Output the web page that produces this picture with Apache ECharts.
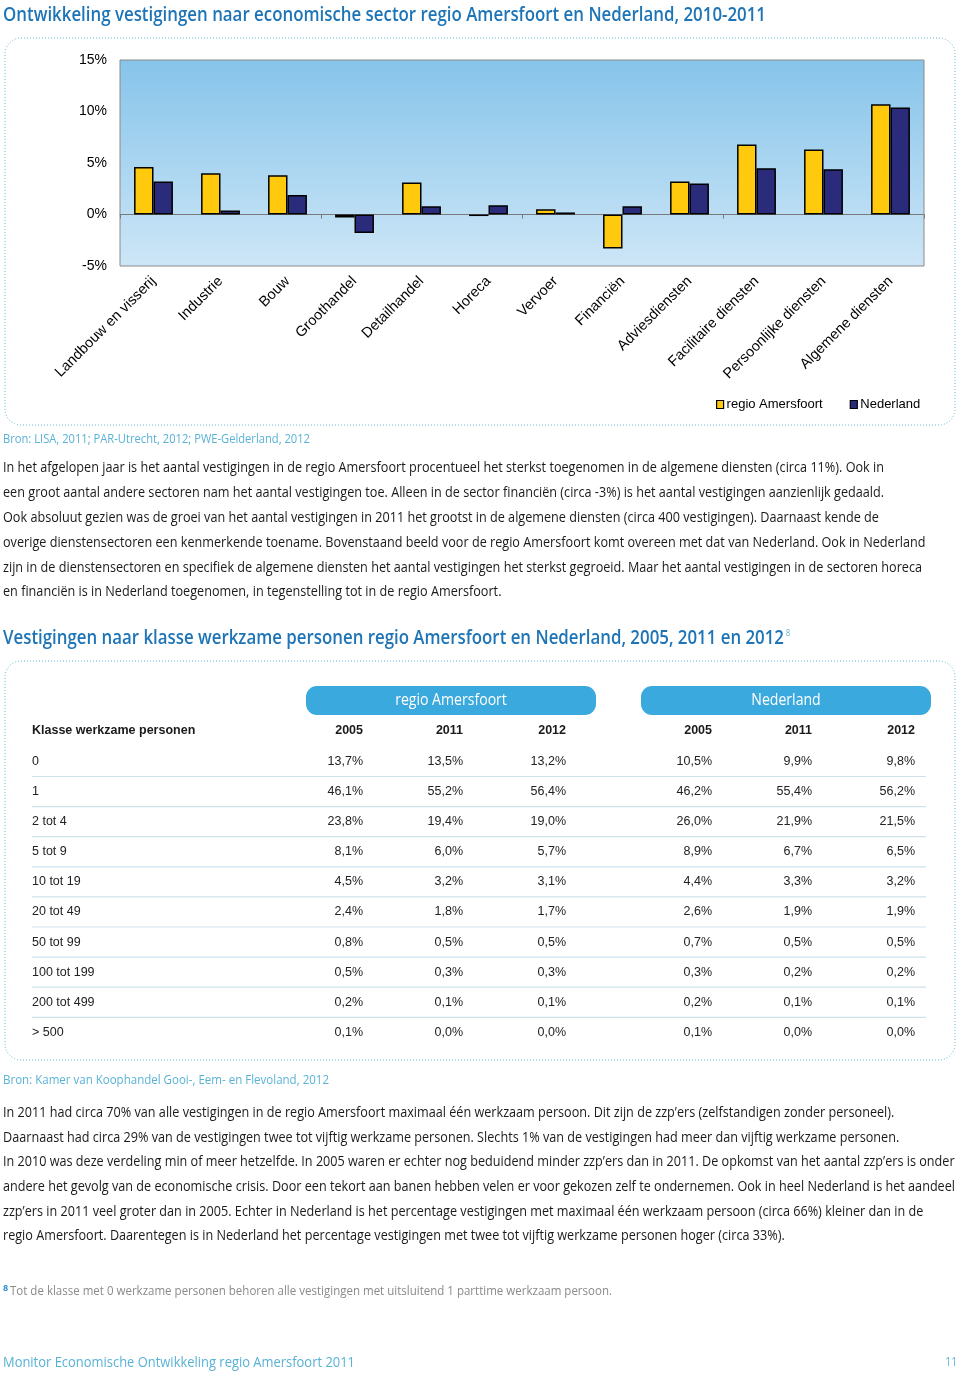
<!DOCTYPE html>
<html><head><meta charset="utf-8">
<script src="https://cdn.jsdelivr.net/npm/echarts@6/dist/echarts.min.js"></script>
<style>html,body{margin:0;padding:0;background:#fff}#c{width:960px;height:1375px}</style>
</head><body><div id="c"></div>
<script>
// ---------- DATA ----------
const sectors = ['Landbouw en visserij','Industrie','Bouw','Groothandel','Detailhandel','Horeca','Vervoer','Financiën','Adviesdiensten','Facilitaire diensten','Persoonlijke diensten','Algemene diensten'];
const regioAmersfoort = [4.6, 4.0, 3.8, -0.3, 3.1, -0.15, 0.5, -3.3, 3.2, 6.8, 6.3, 10.7];
const nederland = [3.2, 0.4, 1.9, -1.8, 0.8, 0.9, 0.2, 0.8, 3.0, 4.5, 4.4, 10.4];
const yTickValues = [-5, 0, 5, 10, 15];
const seriesNames = ['regio Amersfoort', 'Nederland'];

const tableGroups = ['regio Amersfoort', 'Nederland'];
const tableYears = ['2005', '2011', '2012', '2005', '2011', '2012'];
const tableFirstHeader = 'Klasse werkzame personen';
const klassen = ['0','1','2 tot 4','5 tot 9','10 tot 19','20 tot 49','50 tot 99','100 tot 199','200 tot 499','> 500'];
const ra2005 = [13.7, 46.1, 23.8, 8.1, 4.5, 2.4, 0.8, 0.5, 0.2, 0.1];
const ra2011 = [13.5, 55.2, 19.4, 6.0, 3.2, 1.8, 0.5, 0.3, 0.1, 0.0];
const ra2012 = [13.2, 56.4, 19.0, 5.7, 3.1, 1.7, 0.5, 0.3, 0.1, 0.0];
const nl2005 = [10.5, 46.2, 26.0, 8.9, 4.4, 2.6, 0.7, 0.3, 0.2, 0.1];
const nl2011 = [9.9, 55.4, 21.9, 6.7, 3.3, 1.9, 0.5, 0.2, 0.1, 0.0];
const nl2012 = [9.8, 56.2, 21.5, 6.5, 3.2, 1.9, 0.5, 0.2, 0.1, 0.0];

// ---------- TEXTS ----------
const title1 = 'Ontwikkeling vestigingen naar economische sector regio Amersfoort en Nederland, 2010-2011';
const source1 = 'Bron: LISA, 2011; PAR-Utrecht, 2012; PWE-Gelderland, 2012';
const para1 = [
 'In het afgelopen jaar is het aantal vestigingen in de regio Amersfoort procentueel het sterkst toegenomen in de algemene diensten (circa 11%). Ook in',
 'een groot aantal andere sectoren nam het aantal vestigingen toe. Alleen in de sector financiën (circa -3%) is het aantal vestigingen aanzienlijk gedaald.',
 'Ook absoluut gezien was de groei van het aantal vestigingen in 2011 het grootst in de algemene diensten (circa 400 vestigingen). Daarnaast kende de',
 'overige dienstensectoren een kenmerkende toename. Bovenstaand beeld voor de regio Amersfoort komt overeen met dat van Nederland. Ook in Nederland',
 'zijn in de dienstensectoren en specifiek de algemene diensten het aantal vestigingen het sterkst gegroeid. Maar het aantal vestigingen in de sectoren horeca',
 'en financiën is in Nederland toegenomen, in tegenstelling tot in de regio Amersfoort.'
];
const title2 = 'Vestigingen naar klasse werkzame personen regio Amersfoort en Nederland, 2005, 2011 en 2012';
const source2 = 'Bron: Kamer van Koophandel Gooi-, Eem- en Flevoland, 2012';
const para2 = [
 'In 2011 had circa 70% van alle vestigingen in de regio Amersfoort maximaal één werkzaam persoon. Dit zijn de zzp\u2019ers (zelfstandigen zonder personeel).',
 'Daarnaast had circa 29% van de vestigingen twee tot vijftig werkzame personen. Slechts 1% van de vestigingen had meer dan vijftig werkzame personen.',
 'In 2010 was deze verdeling min of meer hetzelfde. In 2005 waren er echter nog beduidend minder zzp\u2019ers dan in 2011. De opkomst van het aantal zzp\u2019ers is onder',
 'andere het gevolg van de economische crisis. Door een tekort aan banen hebben velen er voor gekozen zelf te ondernemen. Ook in heel Nederland is het aandeel',
 'zzp\u2019ers in 2011 veel groter dan in 2005. Echter in Nederland is het percentage vestigingen met maximaal één werkzaam persoon (circa 66%) kleiner dan in de',
 'regio Amersfoort. Daarentegen is in Nederland het percentage vestigingen met twee tot vijftig werkzame personen hoger (circa 33%).'
];
const footnote = 'Tot de klasse met 0 werkzame personen behoren alle vestigingen met uitsluitend 1 parttime werkzaam persoon.';
const footer = 'Monitor Economische Ontwikkeling regio Amersfoort 2011';
const pageNo = '11';

// ---------- HELPERS ----------
const mctx = document.createElement('canvas').getContext('2d');
function measure(str, font) { mctx.font = font; return mctx.measureText(str).width; }
function txt(str, x, y, font, fill, sx, align) {
  return { type: 'text', x: x, y: y, scaleX: sx || 1, silent: true, z: 10,
    style: { text: str, font: font, fill: fill, align: align || 'left', verticalAlign: 'middle' } };
}
function fmt(v) { return v.toFixed(1).replace('.', ',') + '%'; }

const BLUE_T = '#1d74b6';
const LBLUE = '#58b2d6';
const SANS = '"Open Sans", "Noto Sans", sans-serif';
const ARIAL = '"Liberation Sans", Arial, sans-serif';

const g = [];
// dotted boxes
g.push({ type: 'rect', shape: { x: 5, y: 38, width: 950, height: 387, r: 16 }, silent: true,
  style: { fill: 'none', stroke: '#62b4d8', lineWidth: 1, lineDash: [1, 2] } });
g.push({ type: 'rect', shape: { x: 5, y: 661, width: 950, height: 399, r: 16 }, silent: true,
  style: { fill: 'none', stroke: '#62b4d8', lineWidth: 1, lineDash: [1, 2] } });

// title 1
const fT = '600 20px ' + SANS;
g.push(txt(title1, 3, 15, fT, BLUE_T, 763 / measure(title1, fT)));
// source 1
const fS = '12px ' + SANS;
g.push(txt(source1, 3, 440, fS, LBLUE, 307 / measure(source1, fS)));
// paragraph 1
const fP = '14px ' + SANS;
const sx1 = 881 / measure(para1[0], fP);
para1.forEach((l, i) => g.push(txt(l, 3, 468 + i * 24.9, fP, '#1a1a1a', sx1)));
// title 2
g.push(txt(title2, 3, 638, fT, BLUE_T, 781 / measure(title2, fT)));
g.push(txt('8', 786, 633, '9px ' + SANS, LBLUE, 0.8));
// source 2
g.push(txt(source2, 3, 1081, fS, LBLUE, 326 / measure(source2, fS)));
// paragraph 2 (scaled so that the longest line ends at the right margin)
const sx2 = 952 / measure(para2[3], fP);
para2.forEach((l, i) => g.push(txt(l, 3, 1113 + i * 24.7, fP, '#1a1a1a', sx2)));
// footnote
g.push(txt('8', 3, 1288, 'bold 9px ' + SANS, '#2c8fd0', 1));
g.push(txt(footnote, 10, 1292, fS, '#8a8a8a', 602 / measure(footnote, fS)));
// footer
const fF = '14px ' + SANS;
g.push(txt(footer, 3, 1363, fF, LBLUE, 352 / measure(footer, fF)));
g.push(txt(pageNo, 957, 1363, '12px ' + SANS, LBLUE, 0.85, 'right'));

// ---------- TABLE ----------
const pillX = [306, 641];
tableGroups.forEach((name, i) => {
  g.push({ type: 'rect', silent: true, shape: { x: pillX[i], y: 686, width: 290, height: 29, r: 11 },
    style: { fill: '#3aa9dd' } });
  g.push(txt(name, pillX[i] + 145, 700.5, '16px ' + SANS, '#ffffff', 0.88, 'center'));
});
const colRight = [363, 463, 566, 712, 812, 915];
const fH = 'bold 12.5px ' + ARIAL;
const fC = '12.5px ' + ARIAL;
g.push(txt(tableFirstHeader, 32, 731, fH, '#1a1a1a', 1));
tableYears.forEach((y, j) => g.push(txt(y, colRight[j], 731, fH, '#1a1a1a', 1, 'right')));
const cols = [ra2005, ra2011, ra2012, nl2005, nl2011, nl2012];
klassen.forEach((k, i) => {
  const y = 761.5 + i * 30.1;
  g.push(txt(k, 32, y, fC, '#222', 1));
  cols.forEach((arr, j) => g.push(txt(fmt(arr[i]), colRight[j], y, fC, '#222', 1, 'right')));
  if (i < klassen.length - 1) {
    g.push({ type: 'line', silent: true, shape: { x1: 32, y1: y + 15, x2: 926, y2: y + 15 },
      style: { stroke: '#cfe1ea', lineWidth: 1.2 } });
  }
});

// ---------- CHART ----------
const chart = echarts.init(document.getElementById('c'), null, { renderer: 'canvas' });
chart.setOption({
  animation: false,
  backgroundColor: '#ffffff',
  grid: {
    left: 120, top: 60, width: 804, height: 206, show: true,
    borderColor: '#8a8a8a', borderWidth: 1,
    outerBoundsMode: 'none',
    backgroundColor: { type: 'linear', x: 0, y: 0, x2: 0, y2: 1,
      colorStops: [{ offset: 0, color: '#86c4ea' }, { offset: 1, color: '#cde6f7' }] }
  },
  legend: {
    left: 711, top: 393, itemWidth: 7, itemHeight: 8, itemGap: 27, icon: 'rect',
    itemStyle: { borderWidth: 1.2 },
    textStyle: { fontFamily: ARIAL, fontSize: 13, color: '#000', padding: [0, 0, 0, -2] },
    data: seriesNames
  },
  xAxis: [
    { type: 'category', data: sectors, position: 'bottom',
      axisLine: { show: false, onZero: false }, axisTick: { show: false },
      axisLabel: { interval: 0, rotate: 45, margin: 13, fontFamily: ARIAL, fontSize: 14.5, color: '#000' } },
    { type: 'category', data: sectors, position: 'bottom',
      axisLine: { show: true, onZero: true, lineStyle: { color: '#7a7a7a', width: 1 } },
      axisTick: { show: true, length: 4, lineStyle: { color: '#7a7a7a' } },
      axisLabel: { show: false } }
  ],
  yAxis: {
    type: 'value', min: yTickValues[0], max: yTickValues[yTickValues.length - 1],
    interval: yTickValues[1] - yTickValues[0],
    axisLine: { show: false }, axisTick: { show: false }, splitLine: { show: false },
    axisLabel: { formatter: '{value}%', margin: 13, fontFamily: ARIAL, fontSize: 14, color: '#000' }
  },
  series: [
    { name: seriesNames[0], type: 'bar', data: regioAmersfoort, barGap: '0%', barCategoryGap: '42%',
      itemStyle: { color: '#ffc90e', borderColor: '#000', borderWidth: 1.5 } },
    { name: seriesNames[1], type: 'bar', data: nederland, barGap: '0%', barCategoryGap: '42%',
      itemStyle: { color: '#2b2b7c', borderColor: '#000', borderWidth: 1.5 } }
  ],
  graphic: { elements: g }
});
</script></body></html>
